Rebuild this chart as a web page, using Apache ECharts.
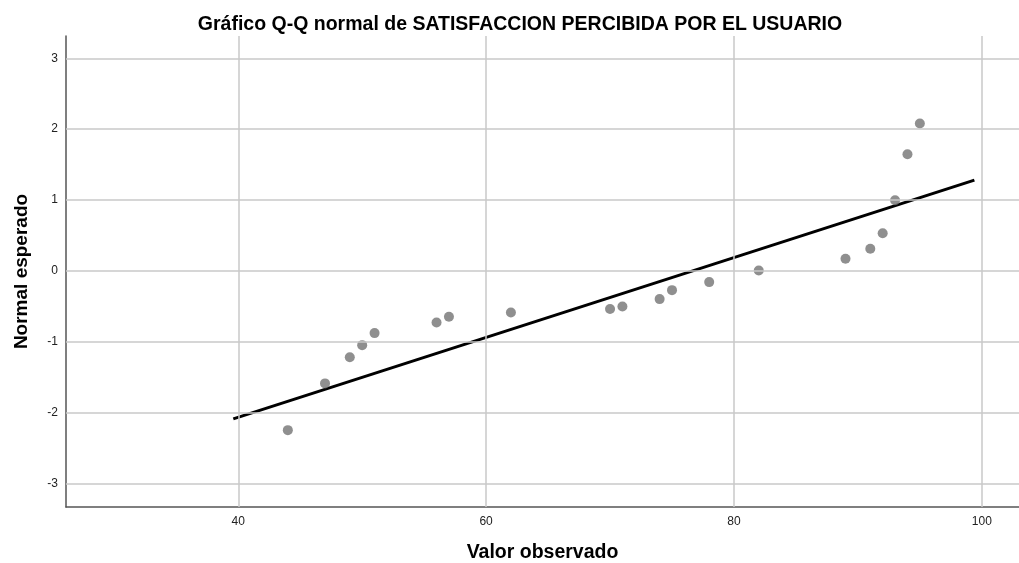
<!DOCTYPE html>
<html><head><meta charset="utf-8">
<script src="https://cdn.jsdelivr.net/npm/echarts@6/dist/echarts.min.js"></script>
<style>html,body{margin:0;padding:0;background:#fff}#c{width:1019px;height:563px}</style>
</head><body><div id="c"></div>
<script>
const observed = [44, 47, 49, 50, 51, 56, 57, 62, 70, 71, 74, 75, 78, 82, 89, 91, 92, 93, 94, 95];
const expected = [-2.25, -1.59, -1.22, -1.05, -0.88, -0.73, -0.65, -0.59, -0.54, -0.505, -0.40, -0.273, -0.16, 0.005, 0.17, 0.31, 0.53, 0.995, 1.645, 2.08];
const lineX = [39.6, 99.4];
const lineY = [-2.09, 1.28];
const xTicks = [40, 60, 80, 100];
const yTicks = [-3, -2, -1, 0, 1, 2, 3];
const titleText = 'Gráfico Q-Q normal de SATISFACCION PERCIBIDA POR EL USUARIO';

const chart = echarts.init(document.getElementById('c'));
const font = 'Liberation Sans, Arial, sans-serif';
chart.setOption({
  animation: false,
  title: {text: titleText, left: 515, top: 10, textAlign: 'center',
    textStyle: {fontFamily: font, fontSize: 19.5, fontWeight: 'bold', color: '#000'}},
  grid: {left: 66, right: 0, top: 36, bottom: 56, outerBoundsMode: 'none', containLabel: false},
  xAxis: {type: 'value', min: 26.1, max: 103,
    name: 'Valor observado', nameLocation: 'middle', nameGap: 36,
    nameTextStyle: {fontFamily: font, fontSize: 19.5, fontWeight: 'bold', color: '#000'},
    axisLine: {show: true, onZero: false, lineStyle: {color: '#555', width: 1.5}},
    axisTick: {show: false},
    axisLabel: {fontFamily: font, fontSize: 12, color: '#222', margin: 9,
      customValues: xTicks},
    splitLine: {show: false}
  },
  yAxis: {type: 'value', min: -3.335, max: 3.315,
    name: 'Normal esperado', nameLocation: 'middle', nameGap: 35, nameRotate: 90,
    nameTextStyle: {fontFamily: font, fontSize: 19, fontWeight: 'bold', color: '#000'},
    axisLine: {show: true, onZero: false, lineStyle: {color: '#555', width: 1.5}},
    axisTick: {show: false},
    axisLabel: {fontFamily: font, fontSize: 12, color: '#222', margin: 8,
      customValues: yTicks},
    splitLine: {show: false}
  },
  series: [
    {type: 'line', data: xTicks.map(v => [v, 0]), showSymbol: false, lineStyle: {width: 0}, silent: true,
      markLine: {silent: true, symbol: 'none', label: {show: false}, lineStyle: {color: '#c8c8c8', width: 1.5, type: 'solid'},
        data: xTicks.map(v => ({xAxis: v})).concat(yTicks.map(v => ({yAxis: v})))}},
    {type: 'line', data: lineX.map((x, i) => [x, lineY[i]]), showSymbol: false,
      lineStyle: {color: '#000', width: 3}, z: 3},
    {type: 'scatter', data: observed.map((x, i) => [x, expected[i]]), symbolSize: 10,
      itemStyle: {color: '#737373'}, z: 4}
  ]
});
</script></body></html>
